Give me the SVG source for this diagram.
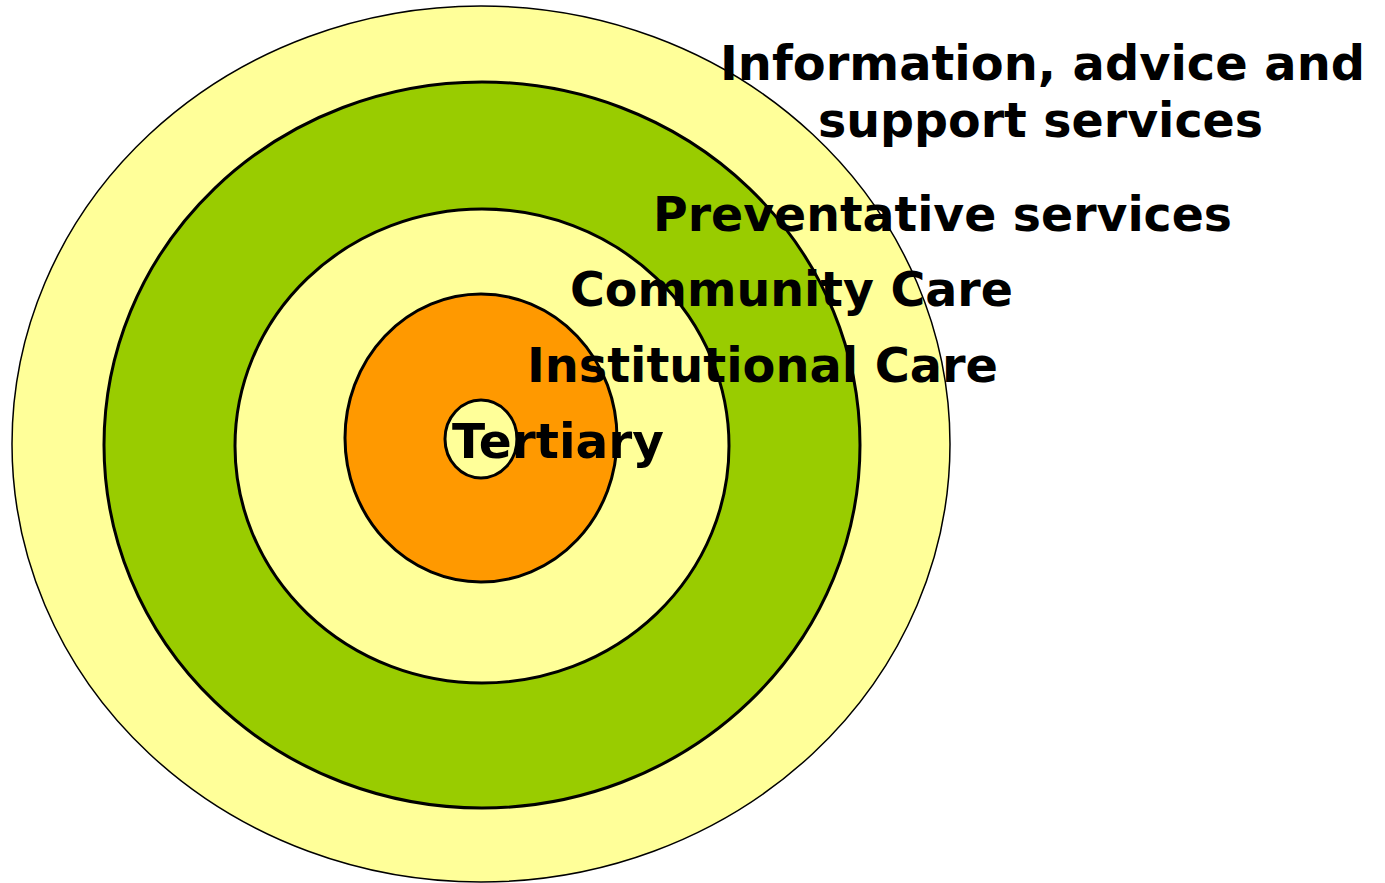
<svg xmlns="http://www.w3.org/2000/svg" width="1385" height="883" viewBox="0 0 1385 883">
<style>
.ring{stroke:#000;stroke-width:3}
.y{fill:#FFFF99}.g{fill:#99CC00}.o{fill:#FF9900}
.lbl{font-family:"DejaVu Sans","Liberation Sans",sans-serif;font-weight:bold;font-size:48px;fill:#000}
</style>
<rect width="1385" height="883" fill="#fff"/>
<g id="ring-info"><ellipse class="y" cx="481" cy="444" rx="469" ry="438" stroke="#000" stroke-width="1.5"/></g>
<g id="ring-prevent"><ellipse class="ring g" cx="482" cy="445" rx="378" ry="363"/></g>
<g id="ring-community"><ellipse class="ring y" cx="482" cy="446" rx="247" ry="237"/></g>
<g id="ring-institutional"><ellipse class="ring o" cx="481" cy="438" rx="136" ry="144"/></g>
<g id="ring-tertiary"><ellipse class="ring y" cx="481" cy="439" rx="36" ry="39"/></g>
<g id="labels">
<text class="lbl" x="720" y="80" textLength="645" lengthAdjust="spacingAndGlyphs">Information, advice and</text>
<text class="lbl" x="818" y="137" textLength="445" lengthAdjust="spacingAndGlyphs">support services</text>
<text class="lbl" x="653" y="231" textLength="579" lengthAdjust="spacingAndGlyphs">Preventative services</text>
<text class="lbl" x="570" y="306" textLength="443" lengthAdjust="spacingAndGlyphs">Community Care</text>
<text class="lbl" x="527" y="382" textLength="471" lengthAdjust="spacingAndGlyphs">Institutional Care</text>
<text class="lbl" x="452" y="458" textLength="212" lengthAdjust="spacingAndGlyphs">Tertiary</text>
</g>
</svg>
